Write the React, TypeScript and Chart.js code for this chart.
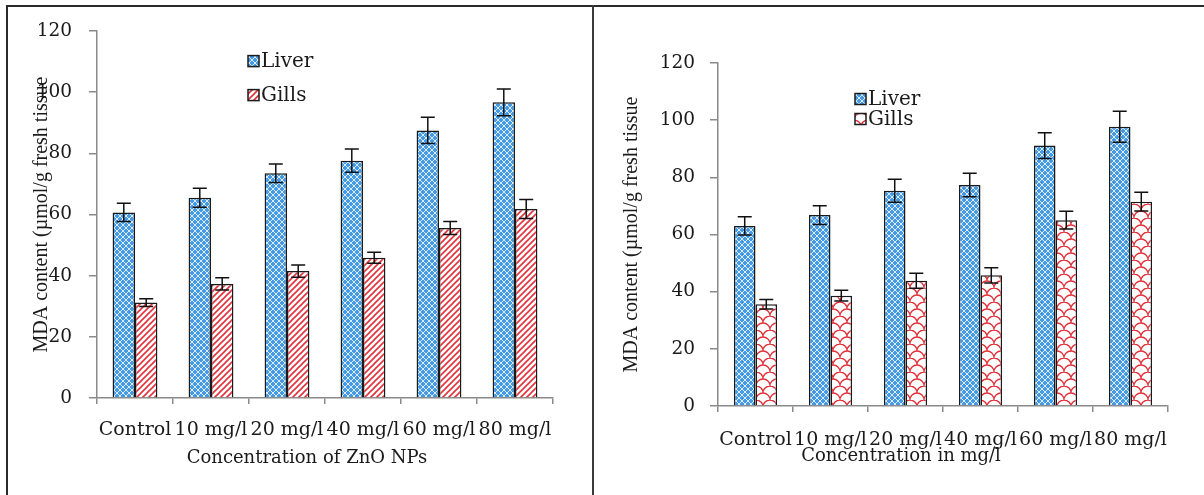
import React, { useEffect, useRef } from "react";
import { Chart, registerables } from "chart.js";
Chart.register(...registerables);

// ---------- data ----------
const categories = ["Control", "10 mg/l", "20 mg/l", "40 mg/l", "60 mg/l", "80 mg/l"];
const seriesNames = ["Liver", "Gills"];
const yMin = 0;
const yMax = 120;
const yStep = 20;

// Left panel: Concentration of ZnO NPs
const znoLiver = [60.7, 65.5, 73.5, 77.6, 87.5, 96.7];
const znoLiverErr = [3.0, 3.1, 3.0, 3.8, 4.3, 4.4];
const znoGills = [31.2, 37.3, 41.5, 45.9, 55.6, 61.8];
const znoGillsErr = [1.3, 2.0, 2.0, 1.8, 2.1, 3.1];

// Right panel: Concentration in mg/l
const mgLiver = [63.0, 66.8, 75.3, 77.3, 91.1, 97.7];
const mgLiverErr = [3.2, 3.3, 4.0, 4.1, 4.5, 5.4];
const mgGills = [35.6, 38.6, 43.8, 45.7, 65.0, 71.5];
const mgGillsErr = [1.7, 1.9, 2.6, 2.7, 3.1, 3.3];

const yTitle = "MDA content (\u00b5mol/g fresh tissue";
const xTitleLeft = "Concentration of ZnO NPs";
const xTitleRight = "Concentration in mg/l";

// ---------- patterns ----------
function makePattern(kind: string): CanvasPattern | string {
  const c = document.createElement("canvas");
  const ctx = c.getContext("2d");
  if (!ctx) return "#888";
  if (kind === "liver") {
    c.width = 6;
    c.height = 6;
    ctx.fillStyle = "#4699e3";
    ctx.fillRect(0, 0, 6, 6);
    ctx.strokeStyle = "rgba(255,255,255,0.8)";
    ctx.lineWidth = 1;
    ctx.beginPath();
    ctx.moveTo(0, 0);
    ctx.lineTo(6, 6);
    ctx.moveTo(6, 0);
    ctx.lineTo(0, 6);
    ctx.stroke();
  } else if (kind === "stripes") {
    c.width = 6;
    c.height = 6;
    ctx.fillStyle = "#ffffff";
    ctx.fillRect(0, 0, 6, 6);
    ctx.strokeStyle = "#e3323c";
    ctx.lineWidth = 1.6;
    ctx.beginPath();
    ctx.moveTo(-1, 7);
    ctx.lineTo(7, -1);
    ctx.moveTo(-1, 1);
    ctx.lineTo(1, -1);
    ctx.moveTo(5, 7);
    ctx.lineTo(7, 5);
    ctx.stroke();
  } else {
    c.width = 14;
    c.height = 14;
    ctx.fillStyle = "#ffffff";
    ctx.fillRect(0, 0, 14, 14);
    ctx.strokeStyle = "#e0303a";
    ctx.lineWidth = 1.3;
    ctx.beginPath();
    ctx.arc(7, 7, 7, Math.PI, 2 * Math.PI);
    ctx.moveTo(7, 14);
    ctx.arc(0, 14, 7, 0, -Math.PI / 2, true);
    ctx.moveTo(7, 14);
    ctx.arc(14, 14, 7, Math.PI, 1.5 * Math.PI);
    ctx.stroke();
  }
  return ctx.createPattern(c, "repeat") || "#888";
}

// ---------- plugins ----------
function errorBarPlugin(errs: number[][]) {
  return {
    id: "errorBars",
    afterDatasetsDraw(chart: any) {
      const ctx = chart.ctx;
      const yScale = chart.scales.y;
      ctx.save();
      ctx.strokeStyle = "#111";
      ctx.lineWidth = 1.5;
      chart.data.datasets.forEach((ds: any, i: number) => {
        const meta = chart.getDatasetMeta(i);
        meta.data.forEach((bar: any, j: number) => {
          const v = ds.data[j];
          const e = errs[i][j];
          const yt = yScale.getPixelForValue(v + e);
          const yb = yScale.getPixelForValue(v - e);
          const x = bar.x;
          ctx.beginPath();
          ctx.moveTo(x, yt);
          ctx.lineTo(x, yb);
          ctx.moveTo(x - 7, yt);
          ctx.lineTo(x + 7, yt);
          ctx.moveTo(x - 7, yb);
          ctx.lineTo(x + 7, yb);
          ctx.stroke();
        });
      });
      ctx.restore();
    },
  };
}

function legendPlugin(dx: number, dys: number[]) {
  return {
    id: "boxLegend",
    afterDraw(chart: any) {
      const { ctx, chartArea } = chart;
      ctx.save();
      chart.data.datasets.forEach((ds: any, i: number) => {
        const x = chartArea.left + dx;
        const y = chartArea.top + dys[i];
        ctx.fillStyle = ds.backgroundColor;
        ctx.fillRect(x, y - 5.5, 11, 11);
        ctx.strokeStyle = "#1a1a1a";
        ctx.lineWidth = 1.5;
        ctx.strokeRect(x, y - 5.5, 11, 11);
        ctx.fillStyle = "#1a1a1a";
        ctx.font = '20px "DejaVu Serif"';
        ctx.textBaseline = "middle";
        ctx.textAlign = "left";
        ctx.fillText(ds.label, x + 13, y + 1);
      });
      ctx.restore();
    },
  };
}

function xTitlePlugin(text: string, dx: number, dy: number) {
  return {
    id: "xTitle",
    afterDraw(chart: any) {
      const { ctx, chartArea } = chart;
      ctx.save();
      ctx.fillStyle = "#1a1a1a";
      ctx.font = '18px "DejaVu Serif"';
      ctx.textAlign = "center";
      ctx.textBaseline = "middle";
      ctx.fillText(text, chartArea.left + dx, chartArea.bottom + dy);
      ctx.restore();
    },
  };
}

// ---------- panel ----------
type PanelCfg = {
  left: number;
  top: number;
  width: number;
  height: number;
  liver: number[];
  gills: number[];
  liverErr: number[];
  gillsErr: number[];
  gillsKind: string;
  catPct: number;
  padding: { left: number; right: number; top: number; bottom: number };
  yWidth: number;
  xHeight: number;
  yTickPad: number;
  xTickPad: number;
  yTitlePad: number;
  legendDx: number;
  legendDys: number[];
  xTitle: string;
  xTitleDx: number;
  xTitleDy: number;
};

function Panel({ cfg }: { cfg: PanelCfg }) {
  const ref = useRef<HTMLCanvasElement>(null);
  useEffect(() => {
    const canvas = ref.current;
    if (!canvas) return;
    const liverPat = makePattern("liver");
    const gillsPat = makePattern(cfg.gillsKind);
    const axisColor = "#8a8a8a";
    const chart = new Chart(canvas, {
      type: "bar",
      data: {
        labels: categories,
        datasets: [
          {
            label: seriesNames[0],
            data: cfg.liver,
            backgroundColor: liverPat as any,
            borderColor: "#1a1a1a",
            borderWidth: 1.5,
            barPercentage: 1,
            categoryPercentage: cfg.catPct,
          },
          {
            label: seriesNames[1],
            data: cfg.gills,
            backgroundColor: gillsPat as any,
            borderColor: "#1a1a1a",
            borderWidth: 1.5,
            barPercentage: 1,
            categoryPercentage: cfg.catPct,
          },
        ],
      },
      options: {
        responsive: false,
        animation: false,
        layout: { padding: cfg.padding },
        plugins: {
          legend: { display: false },
          tooltip: { enabled: false },
        },
        scales: {
          x: {
            afterFit: (s: any) => {
              s.height = cfg.xHeight;
            },
            grid: {
              display: true,
              drawOnChartArea: false,
              drawTicks: true,
              tickLength: 6,
              color: axisColor,
              lineWidth: 1.5,
              offset: true,
            },
            border: { display: true, color: axisColor, width: 1.5 },
            ticks: {
              autoSkip: false,
              maxRotation: 0,
              minRotation: 0,
              padding: cfg.xTickPad,
              color: "#1a1a1a",
              font: { family: "DejaVu Serif", size: 19 },
            },
          },
          y: {
            min: yMin,
            max: yMax,
            afterFit: (s: any) => {
              s.width = cfg.yWidth;
            },
            grid: {
              display: true,
              drawOnChartArea: false,
              drawTicks: true,
              tickLength: 8,
              color: axisColor,
              lineWidth: 1.5,
            },
            border: { display: true, color: axisColor, width: 1.5 },
            ticks: {
              stepSize: yStep,
              padding: cfg.yTickPad,
              color: "#1a1a1a",
              font: { family: "DejaVu Serif", size: 18.5 },
            },
            title: {
              display: true,
              text: yTitle,
              color: "#1a1a1a",
              font: { family: "Liberation Serif", size: 20 },
              padding: { top: cfg.yTitlePad, bottom: 0 },
            },
          },
        },
      },
      plugins: [
        errorBarPlugin([cfg.liverErr, cfg.gillsErr]),
        legendPlugin(cfg.legendDx, cfg.legendDys),
        xTitlePlugin(cfg.xTitle, cfg.xTitleDx, cfg.xTitleDy),
      ],
    });
    return () => chart.destroy();
  }, []);
  return (
    <canvas
      ref={ref}
      width={cfg.width}
      height={cfg.height}
      style={{
        position: "absolute",
        left: cfg.left,
        top: cfg.top,
        width: cfg.width,
        height: cfg.height,
      }}
    />
  );
}

const leftCfg: PanelCfg = {
  left: 9,
  top: 3,
  width: 583,
  height: 492,
  liver: znoLiver,
  gills: znoGills,
  liverErr: znoLiverErr,
  gillsErr: znoGillsErr,
  gillsKind: "stripes",
  catPct: 0.59,
  padding: { left: 0, right: 39, top: 28, bottom: 0 },
  yWidth: 88,
  xHeight: 97,
  yTickPad: 17,
  xTickPad: 15,
  yTitlePad: 21,
  legendDx: 151,
  legendDys: [30, 64],
  xTitle: xTitleLeft,
  xTitleDx: 210,
  xTitleDy: 60,
};

const rightCfg: PanelCfg = {
  left: 595,
  top: 8,
  width: 609,
  height: 487,
  liver: mgLiver,
  gills: mgGills,
  liverErr: mgLiverErr,
  gillsErr: mgGillsErr,
  gillsKind: "wave",
  catPct: 0.575,
  padding: { left: 0, right: 36, top: 55, bottom: 0 },
  yWidth: 123,
  xHeight: 89,
  yTickPad: 15,
  xTickPad: 17,
  yTitlePad: 25,
  legendDx: 137,
  legendDys: [36, 56],
  xTitle: xTitleRight,
  xTitleDx: 183,
  xTitleDy: 50,
};

export default function App() {
  return (
    <div
      style={{
        position: "absolute",
        left: 0,
        top: 0,
        width: 1204,
        height: 495,
        background: "#fff",
        overflow: "hidden",
      }}
    >
      <div style={{ position: "absolute", left: 6, top: 5, width: 1198, height: 2, background: "#2a2a2a" }} />
      <div style={{ position: "absolute", left: 6, top: 5, width: 2, height: 490, background: "#2a2a2a" }} />
      <div style={{ position: "absolute", left: 592, top: 5, width: 2, height: 490, background: "#3a3a3a" }} />
      <Panel cfg={leftCfg} />
      <Panel cfg={rightCfg} />
    </div>
  );
}
